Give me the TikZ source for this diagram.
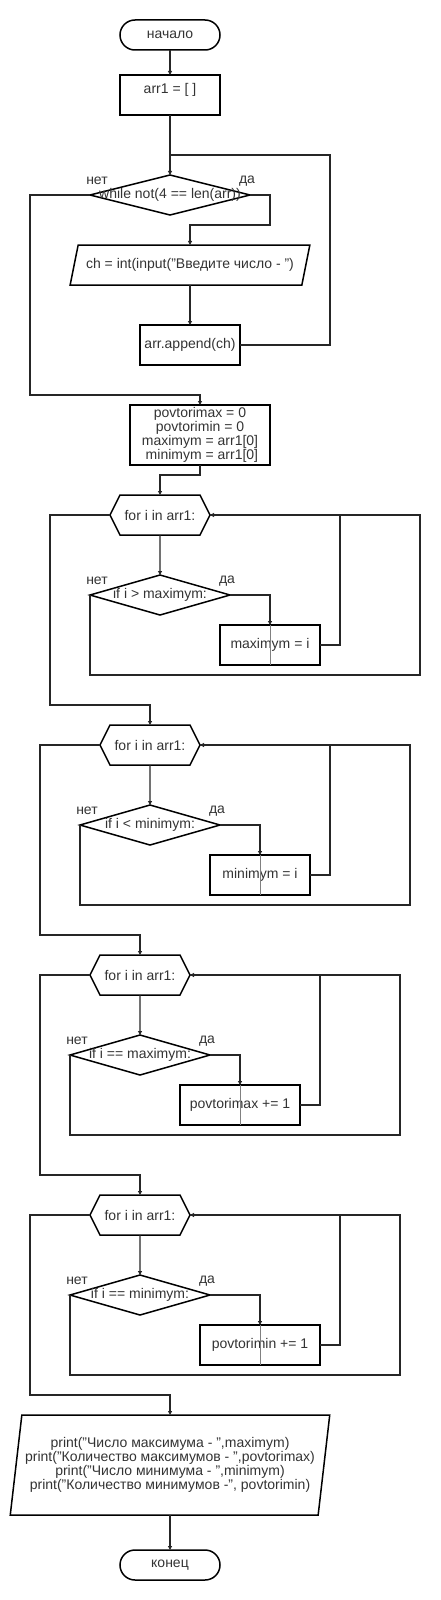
\documentclass[tikz,border=0pt]{standalone}
\usepackage{fontspec}
\setmainfont{Liberation Sans}
\usetikzlibrary{shapes.geometric,shapes.symbols,arrows.meta}

\begin{document}
\begin{tikzpicture}[x=1pt,y=-1pt,
	every node/.style={font=\fontsize{14}{14}\selectfont, text=black!80, outer sep=0pt, inner sep=1pt},
	term/.style={draw, line width=1.5pt, rounded corners=15pt, minimum width=100pt, minimum height=30pt},
	proc/.style={draw, line width=1.5pt, minimum width=100pt, minimum height=40pt, align=center},
	cond/.style={draw, line width=1.5pt, diamond, minimum width=140pt, minimum height=40pt, inner sep=0pt},
	forloop/.style={draw, line width=1.5pt, signal, signal to=west and east, signal pointer angle=126.87, minimum width=100pt, minimum height=40pt},
	io/.style={draw, line width=1.5pt, trapezium, trapezium left angle=63.43, trapezium right angle=116.57, trapezium stretches=true, minimum width=240pt, minimum height=40pt, align=center},
	conn/.style={line width=1.2pt, draw=black!85},
	arr/.style={conn, -{Triangle[length=4pt,width=4pt]}},
	thru/.style={draw=gray, line width=0.8pt}]
	\useasboundingbox (0,0) rectangle (440,1600);

	\node[term] (start) at (170,35) {начало};
	\node[proc] (arr1) at (170,95) {arr1 = [ ]\\\mbox{}};
	\node[cond, minimum width=160pt, label=center:{while not(4 == len(arr))}] (w) at (170,195) {};
	\node (wno) at ([shift={(7,-14)}]w.west) {нет};
	\node (wyes) at ([shift={(-3,-14)}]w.east) {да};
	\node[io] (inp) at (190,265) {ch = int(input("Введите число - ")};
	\node[proc] (app) at (190,345) {arr.append(ch)};
	\node[proc, minimum width=140pt, minimum height=60pt] (init) at (200,435)
		{povtorimax = 0\\povtorimin = 0\\maximym = arr1[0]\\\ minimym = arr1[0]};

	\node[forloop] (f1) at (160,515) {for i in arr1:};
	\node[cond, label=center:{if i > maximym:}] (c1) at (160,595) {};
	\node (no1) at ([shift={(7,-14)}]c1.west) {нет};
	\node (yes1) at ([shift={(-3,-14)}]c1.east) {да};
	\node[proc] (m1) at (270,645) {maximym = i};

	\node[forloop] (f2) at (150,745) {for i in arr1:};
	\node[cond, label=center:{if i < minimym:}] (c2) at (150,825) {};
	\node (no2) at ([shift={(7,-14)}]c2.west) {нет};
	\node (yes2) at ([shift={(-3,-14)}]c2.east) {да};
	\node[proc] (m2) at (260,875) {minimym = i};

	\node[forloop] (f3) at (140,975) {for i in arr1:};
	\node[cond, label=center:{if i == maximym:}] (c3) at (140,1055) {};
	\node (no3) at ([shift={(7,-14)}]c3.west) {нет};
	\node (yes3) at ([shift={(-3,-14)}]c3.east) {да};
	\node[proc, minimum width=120pt] (m3) at (240,1105) {povtorimax += 1};

	\node[forloop] (f4) at (140,1215) {for i in arr1:};
	\node[cond, label=center:{if i == minimym:}] (c4) at (140,1295) {};
	\node (no4) at ([shift={(7,-14)}]c4.west) {нет};
	\node (yes4) at ([shift={(-3,-14)}]c4.east) {да};
	\node[proc, minimum width=120pt] (m4) at (260,1345) {povtorimin += 1};

	\node[io, minimum width=320pt, minimum height=100pt, trapezium left angle=78.69, trapezium right angle=101.31] (out) at (170,1465)
		{print("Число максимума - ",maximym)\\print("Количество максимумов - ",povtorimax)\\print("Число минимума - ",minimym)\\print("Количество минимумов -", povtorimin)};
	\node[term] (stop) at (170,1565) {конец};

	% while
	\coordinate (j0) at (170,155);
	\draw[arr] (start) -- (arr1);
	\draw[arr] (arr1) -- (w);
	\draw[arr] (w.east) -- ++(20,0) -- ++(0,30) -| (inp.north);
	\draw[arr] (inp) -- (app);
	\draw[conn] (app.east) -- ++(90,0) |- (j0);
	\draw[arr] (w.west) -| ++(-60,200) -| (init.north);

	% max
	\draw[arr] (init.south) -- ++(0,10) -| (f1.north);
	\draw[arr] (f1) -- (c1);
	\draw[arr] (c1.east) -| (m1.north);
	\draw[thru] (m1.north) -- (m1.south);
	\draw[arr] (m1.east) -- ++(20,0) |- (f1.east);
	\draw[conn] (c1.west) -- ++(0,80) -- ++(330,0) |- (f1.east);
	\draw[arr] (f1.west) -- ++(-60,0) -- ++(0,190) -| (f2.north);

	% min
	\draw[arr] (f2) -- (c2);
	\draw[arr] (c2.east) -| (m2.north);
	\draw[thru] (m2.north) -- (m2.south);
	\draw[arr] (m2.east) -- ++(20,0) |- (f2.east);
	\draw[conn] (c2.west) -- ++(0,80) -- ++(330,0) |- (f2.east);
	\draw[arr] (f2.west) -- ++(-60,0) -- ++(0,190) -| (f3.north);

	% povtorimax
	\draw[arr] (f3) -- (c3);
	\draw[arr] (c3.east) -| (m3.north);
	\draw[thru] (m3.north) -- (m3.south);
	\draw[arr] (m3.east) -- ++(20,0) |- (f3.east);
	\draw[conn] (c3.west) -- ++(0,80) -- ++(330,0) |- (f3.east);
	\draw[arr] (f3.west) -- ++(-50,0) -- ++(0,200) -| (f4.north);

	% povtorimin
	\draw[arr] (f4) -- (c4);
	\draw[arr] (c4.east) -| (m4.north);
	\draw[thru] (m4.north) -- (m4.south);
	\draw[arr] (m4.east) -- ++(20,0) |- (f4.east);
	\draw[conn] (c4.west) -- ++(0,80) -- ++(330,0) |- (f4.east);
	\draw[arr] (f4.west) -- ++(-60,0) -- ++(0,180) -| (out.north);
	\draw[arr] (out) -- (stop);
\end{tikzpicture}
\end{document}
